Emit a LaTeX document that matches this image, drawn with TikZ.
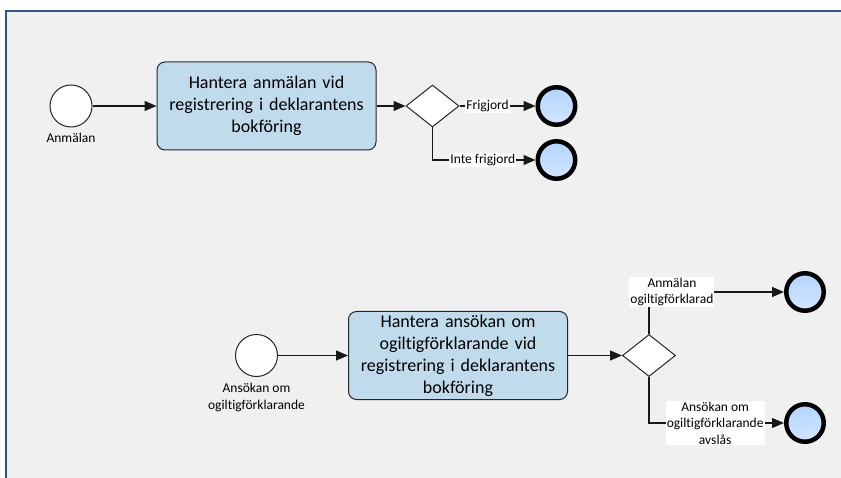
\documentclass[tikz,border=0pt]{standalone}
\usepackage{fontspec}
\setmainfont{Carlito}[Ligatures=NoCommon]
\usetikzlibrary{positioning, shapes.geometric, arrows.meta}

\definecolor{canvasgrey}{HTML}{F0F0F0}
\definecolor{framedblue}{HTML}{2F5597}
\definecolor{taskblue}{HTML}{C0DCEC}
\definecolor{endtop}{HTML}{B3D4FF}
\definecolor{endbottom}{HTML}{D3E6FF}

\begin{document}
\begin{tikzpicture}[
    x=1pt, y=-1pt,
    startev/.style={circle, draw=black!85, line width=1pt, fill=white, minimum size=42pt, inner sep=0pt},
    endev/.style={circle, draw=black, line width=4.5pt, top color=endtop, bottom color=endbottom, minimum size=37.5pt, inner sep=0pt},
    task/.style={rectangle, rounded corners=8pt, draw=black!85, line width=1pt, fill=taskblue, text width=210pt, inner xsep=4.5pt, inner ysep=2pt, minimum height=88pt, align=center, font=\fontsize{18}{22}\selectfont},
    gateway/.style={diamond, draw=black!85, line width=1pt, fill=white, minimum width=53pt, minimum height=42pt, inner sep=0pt},
    lbl/.style={align=center, font=\fontsize{13.5}{16.5}\selectfont, inner sep=1pt},
    edgelbl/.style={lbl, fill=white},
    flow/.style={-{Triangle[length=12pt, width=10pt]}, line width=1.2pt, draw=black!90}
]
    % Canvas
    \useasboundingbox (0,0) rectangle (841,478);
    \fill[white] (0,0) rectangle (841,478);
    \fill[canvasgrey] (6,11) rectangle (841,478);
    \draw[framedblue, line width=1.5pt] (6,478) -- (6,11) -- (841,11);

    % Upper process
    \node[startev] (start1) at (71,106) {};
    \node[lbl, below=4pt of start1] (start1-lbl) {Anmälan};
    \node[task, right=64pt of start1] (task1) {Hantera anmälan vid\\registrering i deklarantens\\bokföring};
    \node[gateway, right=29pt of task1] (gw1) {};
    \node[endev, right=76pt of gw1] (end1) {};
    \node[endev, below=12pt of end1] (end2) {};

    % Lower process
    \node[startev] (start2) at (256.5,355.5) {};
    \node[lbl, below=5pt of start2] (start2-lbl) {Ansökan om\\ogiltigförklarande};
    \node[task, right=70pt of start2] (task2) {Hantera ansökan om\\ogiltigförklarande vid\\registrering i deklarantens\\bokföring};
    \node[gateway, right=54pt of task2] (gw2) {};
    \node[endev, right=108pt of gw2, yshift=63.5pt] (end3) {};
    \node[endev, right=108pt of gw2, yshift=-67.5pt] (end4) {};

    % Flows
    \draw[flow] (start1) -- (task1);
    \draw[flow] (task1) -- (gw1);
    \draw[flow] (gw1) -- node[edgelbl, pos=0.37] {Frigjord} (end1);
    \draw[flow] (gw1.south) |- node[edgelbl, pos=0.744] {Inte frigjord} (end2);

    \draw[flow] (start2) -- (task2);
    \draw[flow] (task2) -- (gw2);
    \draw[flow] (gw2.north) |- node[edgelbl, pos=0.585] {Anmälan\\ogiltigförklarad} (end3);
    \draw[flow] (gw2.south) |- node[edgelbl, pos=0.745] {Ansökan om\\ogiltigförklarande\\avslås} (end4);
\end{tikzpicture}
\end{document}
